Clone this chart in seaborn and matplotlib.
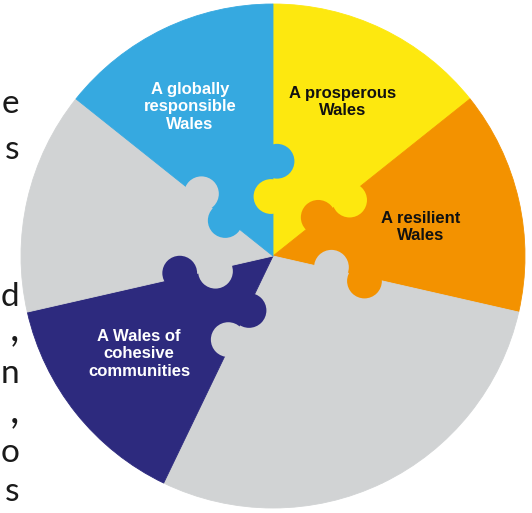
import numpy as np
import matplotlib
matplotlib.use("Agg")
import matplotlib.pyplot as plt
import seaborn as sns
from matplotlib.patches import Circle

sns.set_theme(style="white")
plt.rcParams['font.family'] = ['Liberation Sans', 'DejaVu Sans']

# ---- data ----
goals = ["A prosperous\nWales", "A resilient\nWales", "", "",
         "A Wales of\ncohesive\ncommunities", "", "A globally\nresponsible\nWales"]
shares = [1, 1, 1, 1, 1, 1, 1]
colors = ["#FDE80F", "#F39200", "#D1D3D4", "#D1D3D4", "#2D2A7E", "#D1D3D4", "#36A9E0"]
text_colors = ["#111111", "#111111", "#111111", "#111111", "#FFFFFF", "#FFFFFF", "#FFFFFF"]
label_pos = [(343, 102), (421, 227), None, None, (139, 354), None, (190, 107)]
side_chars = ["e", "s", "d", ",", "n", ",", "o", "s"]
side_baselines = [113, 159, 306, 340, 383, 422, 462, 501]

W, H = 532, 513
CX, CY, R = 273, 256, 252

fig = plt.figure(figsize=(W / 100, H / 100), dpi=100)
ax = fig.add_axes([0, 0, 1, 1])

wedges, _ = ax.pie(shares, colors=colors, startangle=90, counterclock=False,
                   radius=1.0, center=(0, 0), frame=True,
                   wedgeprops=dict(linewidth=0.6))
for w, c in zip(wedges, colors):
    w.set_edgecolor(c)
ax.set_xlim((0 - CX) / R, (W - CX) / R)
ax.set_ylim((CY - H) / R, (CY - 0) / R)
ax.set_aspect("equal")
ax.axis("off")

# puzzle knobs on each boundary between differently coloured slices
n = len(shares)
tot = float(sum(shares))
cum = np.cumsum([0] + shares)
kr = 0.069
for i in range(n):
    ccw = (i - 1) % n      # slice counter-clockwise of boundary i
    cw = i                 # slice clockwise of boundary i
    if colors[ccw] == colors[cw]:
        continue
    th = np.deg2rad(90 - 360 * cum[i] / tot)
    u = np.array([np.cos(th), np.sin(th)])
    p_ccw = np.array([-np.sin(th), np.cos(th)])
    inner = 0.236 * u + 0.008 * p_ccw
    outer = 0.376 * u - 0.016 * p_ccw
    ax.add_patch(Circle(inner, kr, color=colors[cw], lw=0, zorder=3))
    ax.add_patch(Circle(outer, kr, color=colors[ccw], lw=0, zorder=3))

for lab, pos, tc in zip(goals, label_pos, text_colors):
    if pos is None:
        continue
    ax.text((pos[0] - CX) / R, (CY - pos[1]) / R, lab, ha="center", va="center",
            color=tc, fontsize=12, fontweight="bold", linespacing=1.2, zorder=5)

for ch, yb in zip(side_chars, side_baselines):
    fs = 30 if ch == "," else 24
    fig.text(19 / W, 1 - yb / H, ch, ha="right", va="baseline", fontsize=fs,
             color="#1a1a1a", family=["Lato", "DejaVu Sans"], fontweight="normal")

fig.savefig("out.png", dpi=100, facecolor="white")
